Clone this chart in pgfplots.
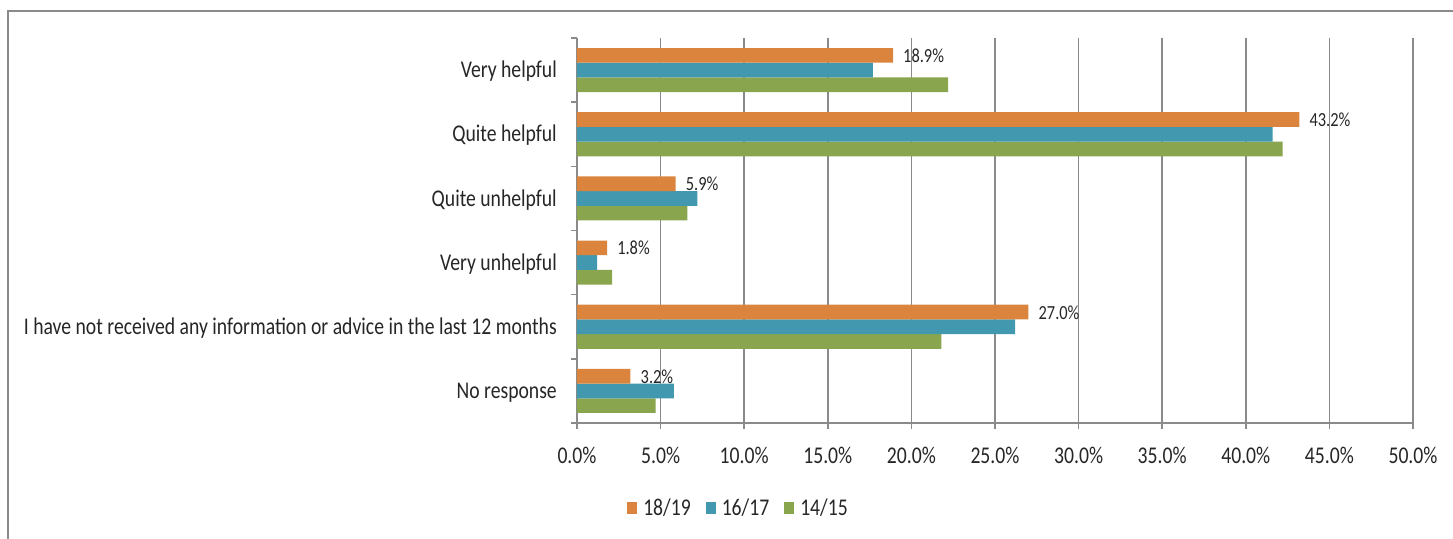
\documentclass[border=0pt]{standalone}
\usepackage{pgfplots}
\pgfplotsset{compat=1.18}
\usepackage{fontspec}
\setmainfont{Carlito}[FakeStretch=0.82]
\definecolor{c1}{HTML}{DB843D}
\definecolor{c2}{HTML}{4198AF}
\definecolor{c3}{HTML}{89A54E}
\definecolor{axgray}{HTML}{8A8A8A}
\definecolor{txt}{HTML}{262626}
\begin{document}
\begin{tikzpicture}
\begin{axis}[
  at={(0pt,0pt)}, anchor=south west,
  scale only axis, width=836pt, height=385pt,
  xbar, bar width=14.7pt,
  xmin=0, xmax=50, ymin=-0.5, ymax=5.5,
  axis x line=bottom, axis y line=left,
  axis line style={-, draw=axgray, line width=1.5pt},
  xtick={0,5,...,50},
  minor xtick={0,5,...,50},
  xticklabels={0.0\%,5.0\%,10.0\%,15.0\%,20.0\%,25.0\%,30.0\%,35.0\%,40.0\%,45.0\%,50.0\%},
  ytick={0,...,5},
  minor ytick={-0.5,0.5,...,5.5},
  yticklabels={No response,I have not received any information or advice in the last 12 months,Very unhelpful,Quite unhelpful,Quite helpful,Very helpful},
  major tick length=0pt, minor tick length=6pt, tick align=outside,
  tick style={draw=axgray, line width=1.5pt},
  xmajorgrids, major grid style={draw=axgray, line width=1.5pt},
  xticklabel style={anchor=base, inner sep=0pt, yshift=-40pt, font=\fontsize{24}{28}\selectfont, text=txt},
  yticklabel style={anchor=base east, inner sep=0pt, xshift=-20pt, yshift=-7.75pt, font=\fontsize{24}{28}\selectfont, text=txt},
  legend columns=3,
  legend image code/.code={\fill[#1] (0pt,-6.3pt) rectangle (10pt,6.3pt);},
  legend style={at={(0.192,-0.2208)}, anchor=center, draw=none, fill=none,
    font=\fontsize{24}{28}\selectfont, text=txt,
    /tikz/every even column/.append style={column sep=15pt},
    /tikz/every odd column/.append style={column sep=6pt},
    nodes={inner sep=0pt}},
  every node near coord/.append style={anchor=base west, inner sep=0pt, xshift=10pt, yshift=-7pt, font=\fontsize{20}{24}\selectfont, text=txt},
]
\addlegendimage{fill=c1, draw=none}
\addlegendentry{18/19}
\addlegendimage{fill=c2, draw=none}
\addlegendentry{16/17}
\addlegendimage{fill=c3, draw=none}
\addlegendentry{14/15}
% 14/15
\addplot[forget plot, fill=c3, draw=none, bar shift=-14.7pt] coordinates {
  (4.7,0) (21.8,1) (2.1,2) (6.6,3) (42.2,4) (22.2,5)};
% 16/17
\addplot[forget plot, fill=c2, draw=none, bar shift=0pt] coordinates {
  (5.8,0) (26.2,1) (1.2,2) (7.2,3) (41.6,4) (17.7,5)};
% 18/19
\addplot[forget plot, fill=c1, draw=none, bar shift=14.7pt,
  point meta=x,
  nodes near coords={\pgfmathprintnumber[fixed,fixed zerofill,precision=1,assume math mode=true]{\pgfplotspointmeta}\%}] coordinates {
  (3.2,0) (27.0,1) (1.8,2) (5.9,3) (43.2,4) (18.9,5)};
\end{axis}
\pgfresetboundingbox
\useasboundingbox (-577pt,-115pt) rectangle (876pt,423pt);
\draw[axgray, line width=2pt] (-569pt,-140pt) -- (-569pt,412pt) -- (900pt,412pt);
\end{tikzpicture}
\end{document}
